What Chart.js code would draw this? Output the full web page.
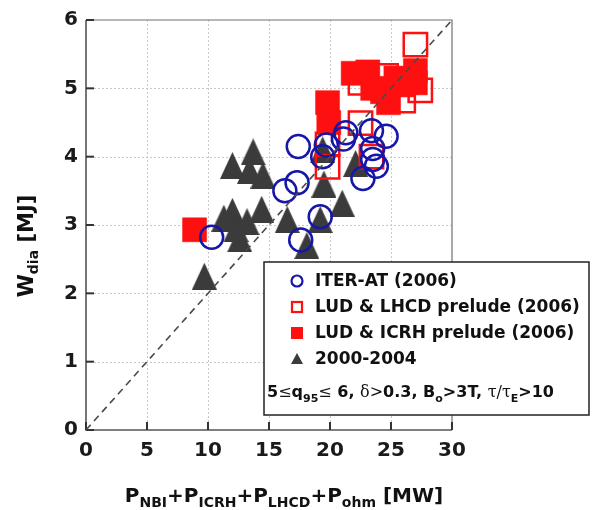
<!DOCTYPE html>
<html>
<head>
<meta charset="utf-8">
<script src="https://cdn.jsdelivr.net/npm/chart.js@4.4.0/dist/chart.umd.min.js"></script>
<style>
  html, body { margin: 0; padding: 0; background: #fff; }
  #wrap { width: 592px; height: 510px; position: relative; }
</style>
</head>
<body>
<div id="wrap"><canvas id="c" width="592" height="510"></canvas></div>
<script>
// Axis ticks
const xTicks = [0, 5, 10, 15, 20, 25, 30];
const yTicks = [0, 1, 2, 3, 4, 5, 6];

// Reference line W = P / 5
const diagX = [0, 30];
const diagY = [0, 6];

// ITER-AT (2006)
const iterAtX = [10.3, 17.4, 16.3, 17.3, 17.6, 19.2, 19.4, 19.7, 21.1, 21.3, 23.4, 24.6, 23.5, 23.5, 23.8, 22.7];
const iterAtY = [2.82, 4.15, 3.50, 3.62, 2.78, 3.12, 4.00, 4.17, 4.26, 4.35, 4.38, 4.30, 4.12, 3.96, 3.86, 3.68];

// LUD & LHCD prelude (2006)
const lhcdX = [27.0, 24.6, 22.5, 27.4, 26.0, 22.5, 19.8, 19.8, 23.4];
const lhcdY = [5.64, 5.18, 5.08, 4.97, 4.82, 4.49, 4.18, 3.85, 4.00];

// LUD & ICRH prelude (2006)
const icrhX = [8.9, 19.8, 19.9, 21.9, 23.1, 27.0, 27.0, 24.3, 24.8, 26.0, 25.4, 23.5];
const icrhY = [2.93, 4.79, 4.50, 5.22, 5.24, 5.26, 5.08, 4.95, 4.79, 5.05, 5.15, 5.00];

// 2000-2004
const oldX = [9.7, 12.0, 13.7, 13.4, 14.5, 12.0, 14.4, 11.3, 13.2, 12.6, 16.5, 19.5, 21.0, 19.2, 18.1, 22.1, 19.4, 12.3];
const oldY = [2.25, 3.87, 4.07, 3.80, 3.73, 3.20, 3.23, 3.10, 3.05, 2.80, 3.08, 3.60, 3.32, 3.08, 2.70, 3.90, 4.10, 2.95];

const legendLabels = ['ITER-AT (2006)', 'LUD & LHCD prelude (2006)', 'LUD & ICRH prelude (2006)', '2000-2004'];

const BLUE = '#1616a8';
const RED = '#ff1010';
const GREY = '#3b3b3b';
const FONT = 'DejaVu Sans';

const pts = (xs, ys) => xs.map((x, i) => ({ x: x, y: ys[i] }));

// Tall triangle marker
function makeTriangle(w, h, color) {
  const c = document.createElement('canvas');
  c.width = w; c.height = h;
  const g = c.getContext('2d');
  g.fillStyle = color;
  g.beginPath();
  g.moveTo(w / 2, 0);
  g.lineTo(w, h);
  g.lineTo(0, h);
  g.closePath();
  g.fill();
  return c;
}
const triMarker = makeTriangle(25, 27, GREY);

// Text made of runs with different fonts / baseline offsets
function richWidth(ctx, parts) {
  let w = 0;
  for (const p of parts) { ctx.font = p.f; w += ctx.measureText(p.t).width; }
  return w;
}
function drawRich(ctx, parts, x, y) {
  let cx = x;
  for (const p of parts) {
    ctx.font = p.f;
    ctx.fillText(p.t, cx, y + (p.dy || 0));
    cx += ctx.measureText(p.t).width;
  }
}

const frame = {
  id: 'frame',
  beforeDatasetsDraw(chart) {
    const ctx = chart.ctx;
    const a = chart.chartArea;
    const xs = chart.scales.x, ys = chart.scales.y;
    ctx.save();
    // dotted grid
    ctx.strokeStyle = '#c9c9c9';
    ctx.lineWidth = 1;
    ctx.setLineDash([2, 2]);
    for (const v of xTicks.slice(1, -1)) {
      const px = Math.round(xs.getPixelForValue(v)) + 0.5;
      ctx.beginPath(); ctx.moveTo(px, a.top); ctx.lineTo(px, a.bottom); ctx.stroke();
    }
    for (const v of yTicks.slice(1, -1)) {
      const py = Math.round(ys.getPixelForValue(v)) + 0.5;
      ctx.beginPath(); ctx.moveTo(a.left, py); ctx.lineTo(a.right, py); ctx.stroke();
    }
    ctx.setLineDash([]);
    // box
    ctx.strokeStyle = '#707070';
    ctx.lineWidth = 1.2;
    ctx.beginPath();
    ctx.moveTo(a.left, a.top); ctx.lineTo(a.right, a.top); ctx.lineTo(a.right, a.bottom);
    ctx.stroke();
    ctx.strokeStyle = '#555';
    ctx.lineWidth = 1.6;
    ctx.beginPath();
    ctx.moveTo(a.left, a.top); ctx.lineTo(a.left, a.bottom); ctx.lineTo(a.right, a.bottom);
    ctx.stroke();
    // inward tick marks
    ctx.strokeStyle = '#333';
    ctx.lineWidth = 2;
    for (const v of xTicks) {
      const px = xs.getPixelForValue(v);
      ctx.beginPath(); ctx.moveTo(px, a.bottom); ctx.lineTo(px, a.bottom - 8); ctx.stroke();
    }
    for (const v of yTicks) {
      const py = ys.getPixelForValue(v);
      ctx.beginPath(); ctx.moveTo(a.left, py); ctx.lineTo(a.left + 8, py); ctx.stroke();
    }
    ctx.restore();
  },
  afterDraw(chart) {
    const ctx = chart.ctx;
    ctx.save();
    ctx.fillStyle = '#111';
    ctx.textBaseline = 'alphabetic';

    // x-axis title
    const B20 = 'bold 20px ' + FONT, B14 = 'bold 14px ' + FONT;
    const xt = [
      { t: 'P', f: B20 }, { t: 'NBI', f: B14, dy: 5 }, { t: '+P', f: B20 }, { t: 'ICRH', f: B14, dy: 5 },
      { t: '+P', f: B20 }, { t: 'LHCD', f: B14, dy: 5 }, { t: '+P', f: B20 }, { t: 'ohm', f: B14, dy: 5 },
      { t: ' [MW]', f: B20 }
    ];
    const xw = richWidth(ctx, xt);
    drawRich(ctx, xt, 284 - xw / 2, 502);

    // y-axis title
    const B21 = 'bold 21px ' + FONT;
    const yt = [{ t: 'W', f: B21 }, { t: 'dia', f: B14, dy: 5 }, { t: ' [MJ]', f: B21 }];
    const yw = richWidth(ctx, yt);
    ctx.save();
    ctx.translate(33, 246);
    ctx.rotate(-Math.PI / 2);
    drawRich(ctx, yt, -yw / 2, 0);
    ctx.restore();

    // legend box
    const L = 264, T = 262, R = 589, Bt = 415;
    ctx.fillStyle = '#fff';
    ctx.fillRect(L, T, R - L, Bt - T);
    ctx.strokeStyle = '#222';
    ctx.lineWidth = 1.5;
    ctx.strokeRect(L, T, R - L, Bt - T);

    const mx = 297;
    const rows = [281, 307, 333, 359];
    // markers
    ctx.lineWidth = 2.2;
    ctx.strokeStyle = BLUE;
    ctx.beginPath(); ctx.arc(mx, rows[0], 5.5, 0, Math.PI * 2); ctx.stroke();
    ctx.strokeStyle = RED;
    ctx.strokeRect(mx - 5, rows[1] - 5, 10, 10);
    ctx.fillStyle = RED;
    ctx.fillRect(mx - 6, rows[2] - 6, 12, 12);
    ctx.fillStyle = GREY;
    ctx.beginPath(); ctx.moveTo(mx, rows[3] - 6); ctx.lineTo(mx + 6, rows[3] + 5); ctx.lineTo(mx - 6, rows[3] + 5); ctx.closePath(); ctx.fill();

    // labels
    ctx.fillStyle = '#111';
    ctx.font = 'bold 17px ' + FONT;
    ctx.textBaseline = 'middle';
    legendLabels.forEach((s, i) => ctx.fillText(s, 315, rows[i] + 1));

    // operating window
    ctx.textBaseline = 'alphabetic';
    const B = 'bold 16px ' + FONT, S = '16px "DejaVu Serif"', SB = 'bold 11px ' + FONT;
    const cond = [
      { t: '5', f: B }, { t: '≤', f: S }, { t: 'q', f: B }, { t: '95', f: SB, dy: 5 }, { t: '≤', f: S },
      { t: ' 6, ', f: B }, { t: 'δ>', f: S }, { t: '0.3, B', f: B }, { t: 'o', f: SB, dy: 5 },
      { t: '>3T, ', f: B }, { t: 'τ/τ', f: S }, { t: 'E', f: SB, dy: 5 }, { t: '>10', f: B }
    ];
    drawRich(ctx, cond, 267, 397);
    ctx.restore();
  }
};

const tickFont = { family: FONT, size: 20, weight: 'bold' };

new Chart(document.getElementById('c'), {
  type: 'scatter',
  data: {
    datasets: [
      { label: 'W = P/5', type: 'line', data: pts(diagX, diagY), borderColor: '#4a4a4a', borderWidth: 1.6,
        borderDash: [7, 5], pointRadius: 0, fill: false, showLine: true },
      { label: legendLabels[0], data: pts(iterAtX, iterAtY), pointStyle: 'circle', pointRadius: 11.5,
        borderWidth: 2.5, borderColor: BLUE, backgroundColor: 'rgba(0,0,0,0)' },
      { label: legendLabels[1], data: pts(lhcdX, lhcdY), pointStyle: 'rect', pointRadius: 16.5,
        borderWidth: 2.5, borderColor: RED, backgroundColor: 'rgba(0,0,0,0)' },
      { label: legendLabels[2], data: pts(icrhX, icrhY), pointStyle: 'rect', pointRadius: 17,
        borderWidth: 0.5, borderColor: RED, backgroundColor: RED },
      { label: legendLabels[3], data: pts(oldX, oldY), pointStyle: triMarker, pointRadius: 13,
        borderWidth: 0, backgroundColor: GREY }
    ]
  },
  options: {
    responsive: false,
    animation: false,
    devicePixelRatio: 1,
    events: [],
    layout: { padding: { left: 0, top: 17, right: 140, bottom: 0 } },
    plugins: { legend: { display: false }, tooltip: { enabled: false } },
    scales: {
      x: {
        type: 'linear', position: 'bottom', min: 0, max: 30,
        afterFit(s) { s.height = 80; },
        afterBuildTicks(s) { s.ticks = xTicks.map(v => ({ value: v })); },
        ticks: { font: tickFont, color: '#1a1a1a', padding: 9, maxRotation: 0, autoSkip: false },
        grid: { display: false, drawTicks: false },
        border: { display: false }
      },
      y: {
        type: 'linear', position: 'left', min: 0, max: 6,
        afterFit(s) { s.width = 86; },
        afterBuildTicks(s) { s.ticks = yTicks.map(v => ({ value: v })); },
        ticks: { font: tickFont, color: '#1a1a1a', padding: 8, autoSkip: false },
        grid: { display: false, drawTicks: false },
        border: { display: false }
      }
    }
  },
  plugins: [frame]
});
</script>
</body>
</html>
